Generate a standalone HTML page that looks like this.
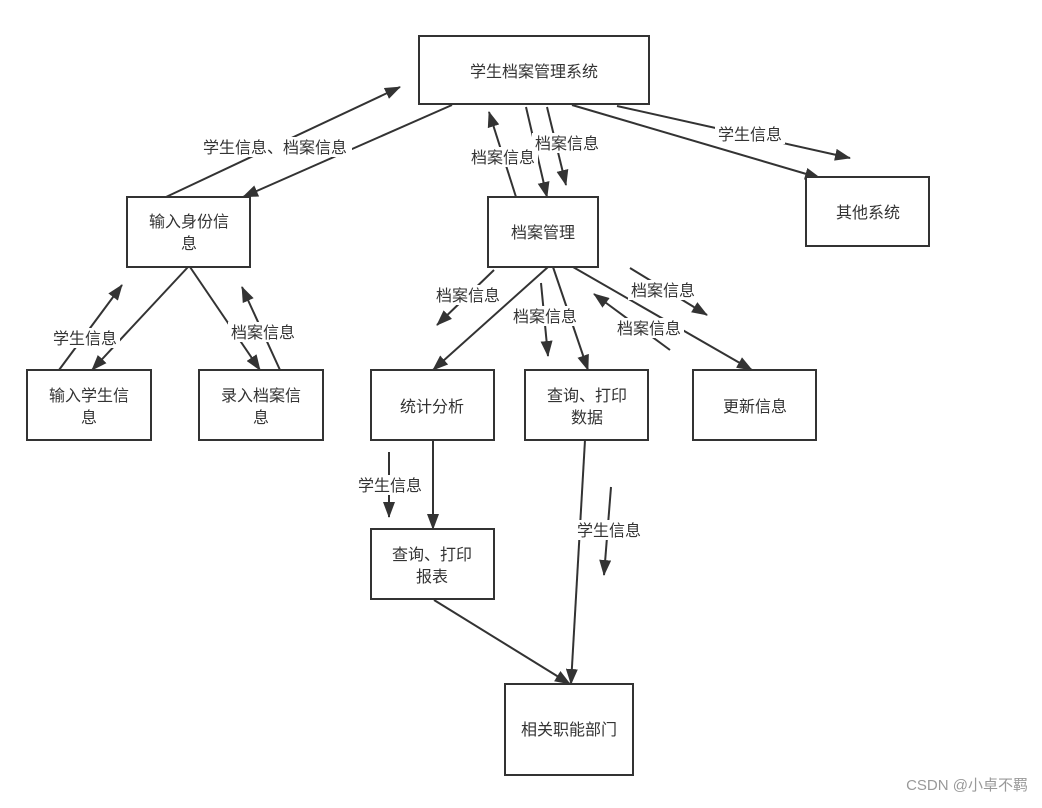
<!DOCTYPE html>
<html><head><meta charset="utf-8"><style>
html,body{margin:0;padding:0;background:#fff;}
svg text{font-family:"Liberation Sans","Noto Sans CJK SC",sans-serif;font-size:16px;fill:#333;}
</style></head><body>
<svg width="1042" height="803" viewBox="0 0 1042 803" xmlns="http://www.w3.org/2000/svg">
<defs>
<marker id="a" markerWidth="10" markerHeight="10" refX="9" refY="5" orient="auto" markerUnits="userSpaceOnUse" viewBox="0 0 10 10">
<path d="M0,1 L10,5 L0,9 Z" fill="#333"/>
</marker>
<marker id="b" markerWidth="16" markerHeight="12" refX="15" refY="6" orient="auto" markerUnits="userSpaceOnUse">
<path d="M0,0 L16,6 L0,12 Z" fill="#333"/>
</marker>
</defs>
<g stroke="#333" stroke-width="2" fill="none" marker-end="url(#b)">
<line x1="166" y1="197" x2="400" y2="87"/>
<line x1="452" y1="105" x2="243" y2="197"/>
<line x1="516" y1="197" x2="489" y2="112"/>
<line x1="526" y1="107" x2="547" y2="197"/>
<line x1="547" y1="107" x2="566" y2="185"/>
<line x1="572" y1="105" x2="820" y2="178"/>
<line x1="617" y1="106" x2="850" y2="158"/>
<line x1="188" y1="267" x2="92" y2="370"/>
<line x1="190" y1="267" x2="260" y2="370"/>
<line x1="59" y1="370" x2="122" y2="285"/>
<line x1="280" y1="370" x2="242" y2="287"/>
<line x1="548" y1="267" x2="433" y2="370"/>
<line x1="494" y1="270" x2="437" y2="325"/>
<line x1="541" y1="283" x2="548" y2="356"/>
<line x1="553" y1="267" x2="588" y2="370"/>
<line x1="573" y1="267" x2="752" y2="370"/>
<line x1="670" y1="350" x2="594" y2="294"/>
<line x1="630" y1="268" x2="707" y2="315"/>
<line x1="433" y1="440" x2="433" y2="529"/>
<line x1="389" y1="452" x2="389" y2="517"/>
<line x1="585" y1="440" x2="571" y2="684"/>
<line x1="611" y1="487" x2="604" y2="575"/>
<line x1="434" y1="600" x2="570" y2="684"/>
</g>
<g fill="#fff">
<rect x="197" y="137" width="155" height="20"/>
<rect x="468" y="147" width="70" height="20"/>
<rect x="532" y="133" width="70" height="20"/>
<rect x="715" y="124" width="70" height="20"/>
<rect x="50" y="328" width="70" height="20"/>
<rect x="228" y="322" width="70" height="20"/>
<rect x="433" y="285" width="70" height="20"/>
<rect x="510" y="306" width="70" height="20"/>
<rect x="628" y="280" width="70" height="20"/>
<rect x="614" y="318" width="70" height="20"/>
<rect x="355" y="475" width="70" height="20"/>
<rect x="574" y="520" width="70" height="20"/>
</g>
<g text-anchor="middle">
<text x="275" y="153">学生信息、档案信息</text>
<text x="503" y="163">档案信息</text>
<text x="567" y="149">档案信息</text>
<text x="750" y="140">学生信息</text>
<text x="85" y="344">学生信息</text>
<text x="263" y="338">档案信息</text>
<text x="468" y="301">档案信息</text>
<text x="545" y="322">档案信息</text>
<text x="663" y="296">档案信息</text>
<text x="649" y="334">档案信息</text>
<text x="390" y="491">学生信息</text>
<text x="609" y="536">学生信息</text>
</g>
<g fill="#fff" stroke="#333" stroke-width="2">
<rect x="419" y="36" width="230" height="68"/>
<rect x="127" y="197" width="123" height="70"/>
<rect x="488" y="197" width="110" height="70"/>
<rect x="806" y="177" width="123" height="69"/>
<rect x="27" y="370" width="124" height="70"/>
<rect x="199" y="370" width="124" height="70"/>
<rect x="371" y="370" width="123" height="70"/>
<rect x="525" y="370" width="123" height="70"/>
<rect x="693" y="370" width="123" height="70"/>
<rect x="371" y="529" width="123" height="70"/>
<rect x="505" y="684" width="128" height="91"/>
</g>
<g text-anchor="middle">
<text x="534" y="77">学生档案管理系统</text>
<text x="189" y="227">输入身份信</text>
<text x="189" y="249">息</text>
<text x="543" y="238">档案管理</text>
<text x="868" y="218">其他系统</text>
<text x="89" y="401">输入学生信</text>
<text x="89" y="423">息</text>
<text x="261" y="401">录入档案信</text>
<text x="261" y="423">息</text>
<text x="432" y="412">统计分析</text>
<text x="587" y="401">查询、打印</text>
<text x="587" y="423">数据</text>
<text x="755" y="412">更新信息</text>
<text x="432" y="560">查询、打印</text>
<text x="432" y="582">报表</text>
<text x="569" y="735">相关职能部门</text>
</g>
<text x="1028" y="790" text-anchor="end" style="font-size:15px;fill:#999">CSDN @小卓不羁</text>
</svg>
</body></html>
